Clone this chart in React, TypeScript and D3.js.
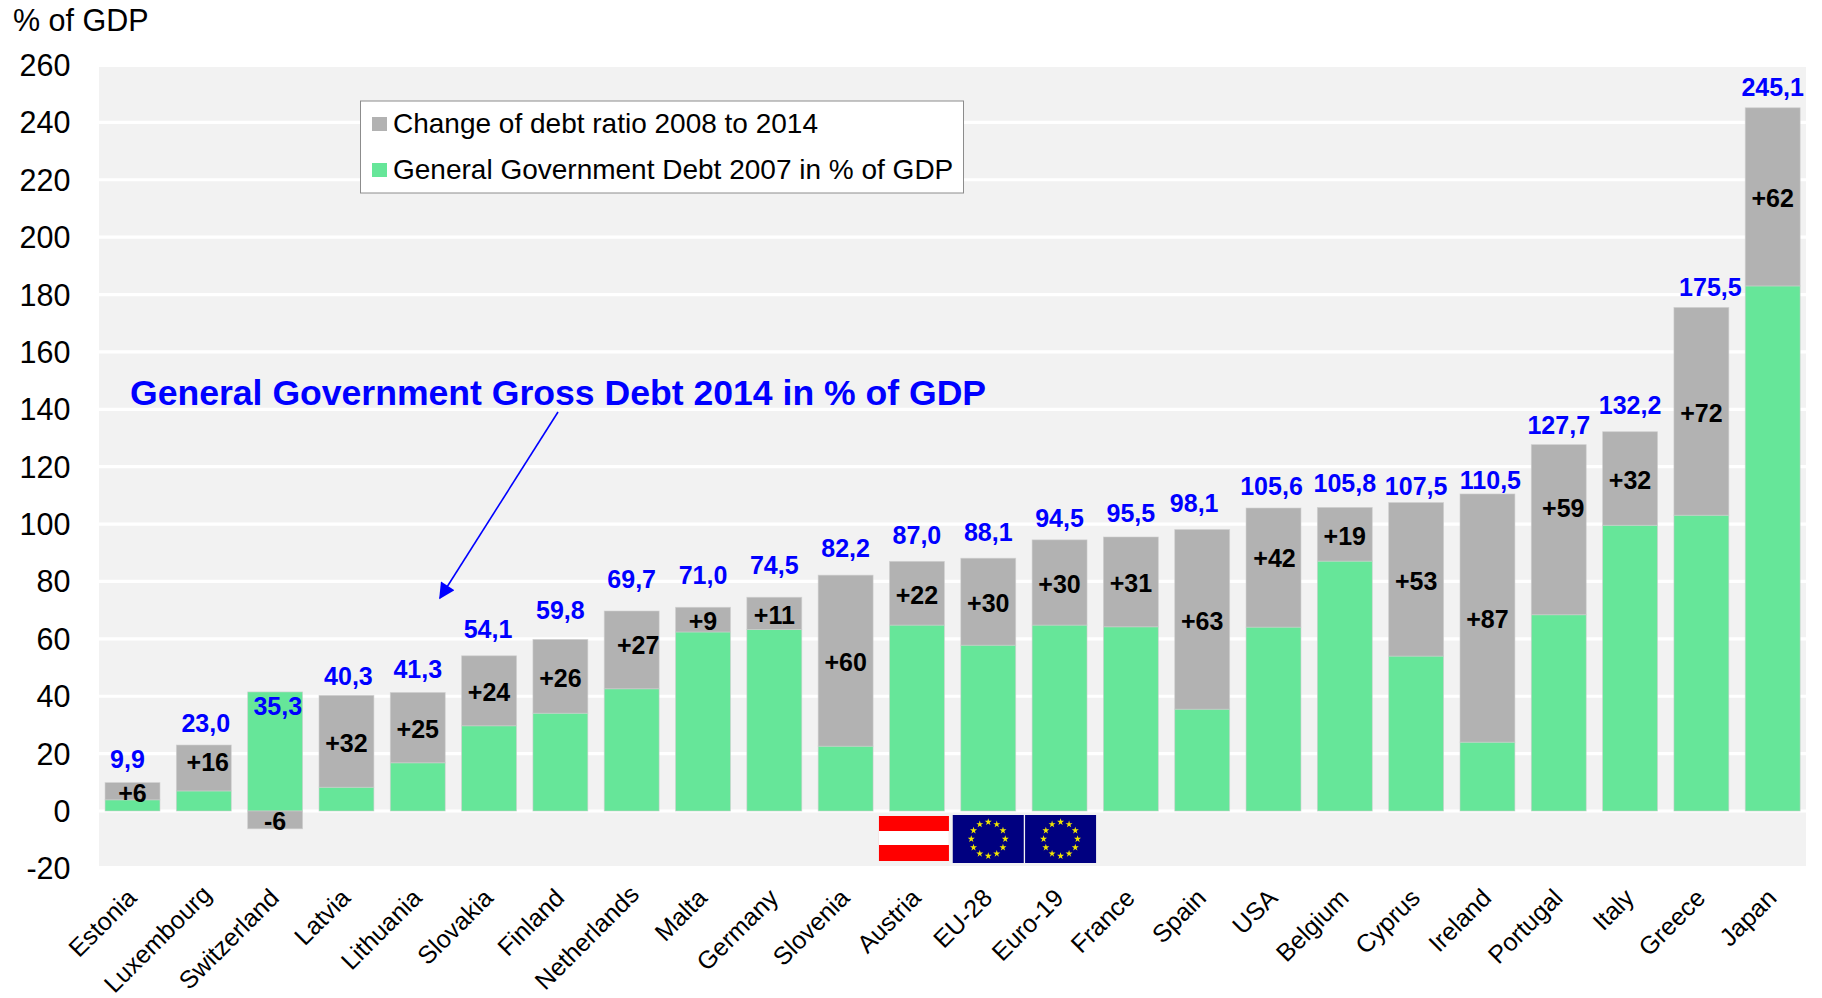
import React from "react";
import * as d3 from "d3";

// Government debt by country, sorted by the 2014 ratio
const countries = ["Estonia","Luxembourg","Switzerland","Latvia","Lithuania","Slovakia","Finland","Netherlands","Malta","Germany","Slovenia","Austria","EU-28","Euro-19","France","Spain","USA","Belgium","Cyprus","Ireland","Portugal","Italy","Greece","Japan"];
const debt2014 = [9.9,23.0,35.3,40.3,41.3,54.1,59.8,69.7,71.0,74.5,82.2,87.0,88.1,94.5,95.5,98.1,105.6,105.8,107.5,110.5,127.7,132.2,175.5,245.1];
const debt2007 = [3.9,7.0,41.5,8.3,16.8,29.7,34.1,42.6,62.4,63.3,22.6,64.8,57.8,64.8,64.2,35.5,64.1,87.1,54.0,24.0,68.4,99.6,103.1,183.0];
const changeLabels = ["+6","+16","-6","+32","+25","+24","+26","+27","+9","+11","+60","+22","+30","+30","+31","+63","+42","+19","+53","+87","+59","+32","+72","+62"];
const yTicks = d3.range(-20, 261, 20);
const legendEntries = ["Change of debt ratio 2008 to 2014", "General Government Debt 2007 in % of GDP"];
const starAngles = d3.range(12).map((i) => (i * Math.PI) / 6);

const W = 1822, H = 998;
const GREY = "#B2B2B2", GREEN = "#66E699", PANEL = "#F2F2F2", BLUE = "#0000FF", FONT = "'Liberation Sans', Arial, sans-serif";

const x = d3.scaleBand<string>().domain(countries).range([96.85, 1808.35]).paddingInner(0.23).paddingOuter(0.115);
const y = d3.scaleLinear().domain([-20, 260]).range([868.4, 65]);

const rows = countries.map((c, i) => ({ c, base: debt2007[i], change: debt2014[i] - debt2007[i] }));
const layers = d3.stack<any>().keys(["base", "change"]).offset(d3.stackOffsetDiverging)(rows);

// Hand-placed label shifts, as on the original slide
const totalShift: Record<string, [number, number]> = {
  Estonia: [-5, -2], Luxembourg: [2, 0], Switzerland: [2.6, 18], Latvia: [2, 3], Lithuania: [0, -1.5],
  Slovakia: [-1, -5], Finland: [0, -7], Netherlands: [0, -10], Malta: [0, -10], Germany: [0, -10],
  Slovenia: [0, -5], Austria: [0, -4], "EU-28": [0, -4], "Euro-19": [0, 0], France: [0, -2],
  Spain: [-8, -4.5], USA: [-2, 0], Belgium: [0, -2], Cyprus: [0, 5.5], Ireland: [3, 8],
  Portugal: [0, 2.5], Italy: [0, -4.6], Greece: [9, 2], Japan: [0, 1.5],
};
const changeShift: Record<string, [number, number]> = {
  Luxembourg: [4, -7.5], Netherlands: [6.5, -6], USA: [1, -11], Portugal: [4.5, -23],
};
// The two longest axis labels slide up their slant to stay on the page
const axisLabelSlide: Record<string, number> = { Luxembourg: 3.5, Netherlands: 3.5 };

const flagW = 71;

function EuFlag({ cx }: { cx: number }) {
  const star = d3.symbol().type(d3.symbolStar).size(15)();
  return (
    <g>
      <rect x={cx - flagW / 2} y={815} width={flagW} height={48} fill="#000080" />
      {starAngles.map((a, i) => (
        <path key={i} d={star as string} fill="#F2E600" transform={`translate(${cx + 17 * Math.sin(a)},${839 - 17 * Math.cos(a)})`} />
      ))}
    </g>
  );
}

export default function App() {
  const bw = x.bandwidth();
  const austria = x("Austria")! + bw / 2 - 3;
  return (
    <svg width={W} height={H} viewBox={`0 0 ${W} ${H}`} style={{ position: "absolute", left: 0, top: 0, display: "block" }} fontFamily={FONT}>
      <defs>
        <marker id="arrowHead" viewBox="0 0 10 10" refX="9" refY="5" markerWidth="18" markerHeight="16" markerUnits="userSpaceOnUse" orient="auto">
          <path d="M0,0 L10,5 L0,10 Z" fill={BLUE} />
        </marker>
      </defs>
      <rect width={W} height={H} fill="#fff" />
      <rect x={99} y={67} width={1707} height={799} fill={PANEL} />
      {yTicks.filter((t) => t > -20 && t < 260).map((t) => (
        <line key={t} x1={99} x2={1806} y1={y(t)} y2={y(t)} stroke="#fff" strokeWidth={3.2} />
      ))}
      {yTicks.map((t) => (
        <text key={t} x={70.5} y={y(t)} dy="0.36em" textAnchor="end" fontSize={30.5} fill="#000">{t}</text>
      ))}
      <text x={13} y={31} fontSize={30.5} fill="#000">% of GDP</text>

      {layers.map((layer, li) =>
        layer.map((d, i) => (
          <rect
            key={`${li}-${i}`}
            x={x(countries[i])}
            y={y(Math.max(d[0], d[1]))}
            width={bw}
            height={Math.abs(y(d[0]) - y(d[1]))}
            fill={li === 0 ? GREEN : GREY}
            stroke="#CFCFCF"
            strokeOpacity={0.7}
            strokeWidth={0.8}
          />
        ))
      )}

      <rect x={879} y={816} width={70} height={45} fill="#FF0000" transform={`translate(${austria - 914},0)`} />
      <rect x={879} y={831} width={70} height={14} fill="#fff" transform={`translate(${austria - 914},0)`} />
      <EuFlag cx={x("EU-28")! + bw / 2} />
      <EuFlag cx={x("Euro-19")! + bw / 2 + 1} />

      {rows.map((r, i) => {
        const cx = x(r.c)! + bw / 2;
        const [tx, ty] = totalShift[r.c] ?? [0, 0];
        const [dx, dy] = changeShift[r.c] ?? [0, 0];
        const slide = axisLabelSlide[r.c] ?? 0;
        const mid = r.change >= 0 ? r.base + r.change / 2 : r.change / 2;
        return (
          <g key={r.c}>
            <text x={cx + tx} y={y(debt2014[i]) - 22 + ty} dy="0.36em" textAnchor="middle" fontSize={25} fontWeight={700} fill={BLUE}>
              {debt2014[i].toFixed(1).replace(".", ",")}
            </text>
            <text x={cx + dx} y={y(mid) + 1.3 + dy} dy="0.36em" textAnchor="middle" fontSize={25} fontWeight={700} fill="#000">
              {changeLabels[i]}
            </text>
            <text transform={`translate(${cx + 5.5 + slide},${899.5 - slide}) rotate(-45)`} textAnchor="end" fontSize={25} fill="#000">{r.c}</text>
          </g>
        );
      })}

      <rect x={360.5} y={101} width={603} height={92} fill="#fff" stroke="#8c8c8c" strokeWidth={1} />
      {legendEntries.map((t, i) => (
        <g key={t}>
          <rect x={372} y={i === 0 ? 117 : 163} width={15} height={14} fill={i === 0 ? GREY : GREEN} />
          <text x={393} y={i === 0 ? 133 : 179} fontSize={28} fill="#000">{t}</text>
        </g>
      ))}

      <text x={130} y={405} fontSize={35.6} fontWeight={700} fill={BLUE}>General Government Gross Debt 2014 in % of GDP</text>
      <line x1={558} y1={412} x2={440} y2={598} stroke={BLUE} strokeWidth={1.6} markerEnd="url(#arrowHead)" />
    </svg>
  );
}
